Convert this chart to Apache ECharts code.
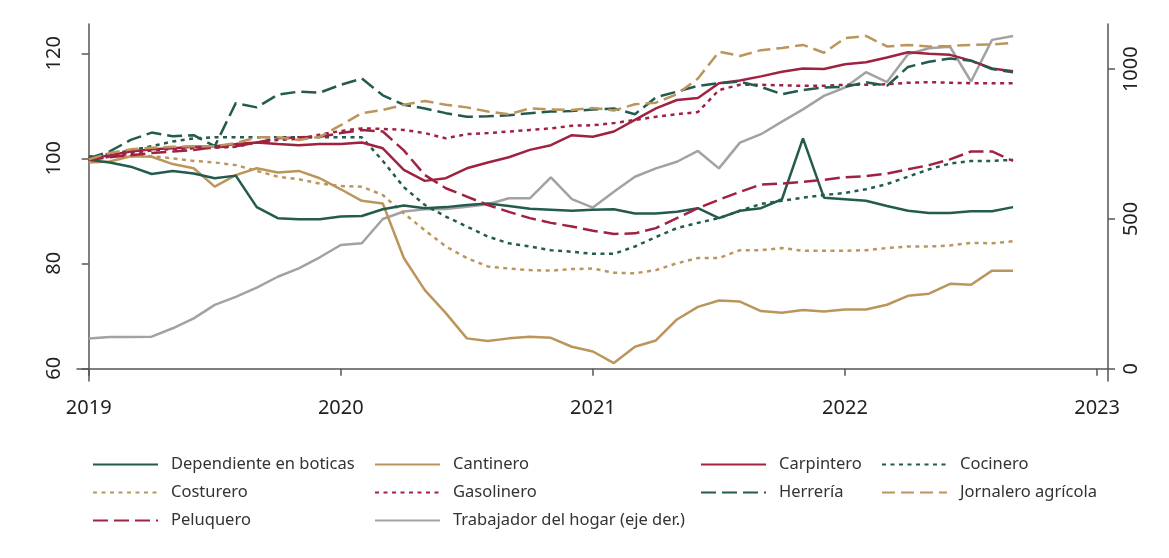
<!DOCTYPE html>
<html>
<head>
<meta charset="utf-8">
<script src="https://cdn.jsdelivr.net/npm/echarts@6/dist/echarts.min.js"></script>
<style>
html,body{margin:0;padding:0;background:#fff;}
#chart{width:1169px;height:558px;}
</style>
</head>
<body>
<div id="chart"></div>
<script>
// meses: ene 2019 (0) ... sep 2022 (44)
var yearTicks = [0, 12, 24, 36, 48];
var leftTicks = [60, 80, 100, 120];
var rightTicks = [0, 500, 1000];

var dependiente = [99.7,99.2,98.4,97.0,97.6,97.1,96.2,96.7,90.7,88.6,88.4,88.4,88.9,89.0,90.3,91.0,90.5,90.7,91.1,91.4,90.9,90.4,90.2,90.0,90.2,90.3,89.5,89.5,89.8,90.5,88.6,90.0,90.5,92.2,103.8,92.5,92.2,91.9,90.9,90.0,89.6,89.6,89.9,89.9,90.7];
var cantinero = [99.2,99.4,100.4,100.3,98.9,98.1,94.6,96.8,98.1,97.3,97.6,96.2,94.1,91.9,91.4,81.0,74.9,70.5,65.7,65.2,65.7,66.0,65.8,64.1,63.2,61.0,64.1,65.3,69.3,71.7,72.9,72.7,70.9,70.6,71.1,70.8,71.2,71.2,72.1,73.8,74.2,76.1,75.9,78.6,78.6];
var carpintero = [99.8,100.6,101.3,101.7,101.9,102.2,102.3,102.7,103.0,102.7,102.5,102.7,102.7,103.0,101.9,97.8,95.7,96.2,98.1,99.2,100.2,101.6,102.5,104.4,104.1,105.1,107.3,109.5,111.1,111.5,114.3,114.8,115.6,116.5,117.1,117.0,117.9,118.3,119.2,120.2,119.9,119.7,118.6,117.1,116.6];
var cocinero = [100.3,100.8,101.5,102.3,103.2,103.8,104.0,104.0,104.0,104.0,104.0,104.0,104.0,104.0,99.5,94.5,91.1,88.9,87.0,85.1,83.8,83.2,82.5,82.2,81.8,81.8,83.2,85.0,86.7,87.7,88.6,90.0,91.3,91.9,92.5,93.0,93.4,94.1,95.1,96.5,97.9,99.0,99.5,99.5,99.7];
var costurero = [100.3,100.5,100.5,100.4,100.0,99.5,99.2,98.7,97.6,96.5,96.0,95.2,94.7,94.6,93.0,89.5,86.3,83.2,81.0,79.4,79.0,78.7,78.6,78.9,79.0,78.2,78.1,78.7,80.0,81.0,81.0,82.5,82.5,82.9,82.4,82.4,82.4,82.5,82.9,83.2,83.2,83.4,83.9,83.8,84.2];
var gasolinero = [99.7,100.3,101.0,101.5,101.8,101.9,102.0,102.2,103.0,103.5,103.7,104.5,105.2,105.7,105.6,105.4,104.8,103.8,104.6,104.8,105.1,105.4,105.7,106.2,106.3,106.7,107.3,107.9,108.4,108.8,113.0,114.0,114.0,113.9,113.8,113.8,114.0,114.0,114.1,114.4,114.5,114.4,114.3,114.3,114.3];
var herreria = [100.0,101.3,103.5,104.9,104.2,104.4,102.3,110.5,109.7,112.1,112.7,112.5,114.0,115.2,112.0,110.2,109.5,108.6,107.9,108.0,108.2,108.6,108.9,109.0,109.3,109.5,108.4,111.6,112.7,113.8,114.3,114.6,113.6,112.2,113.0,113.5,113.6,114.5,113.8,117.4,118.4,119.0,118.6,117.0,116.4];
var jornalero = [99.8,101.0,101.7,102.0,102.2,102.3,102.3,102.9,104.0,104.0,103.5,104.1,106.3,108.6,109.2,110.2,110.9,110.2,109.7,108.9,108.4,109.5,109.3,109.2,109.6,109.1,110.3,110.6,112.2,115.2,120.3,119.5,120.6,121.0,121.6,120.1,122.9,123.3,121.3,121.6,121.3,121.4,121.6,121.7,122.0];
var peluquero = [99.7,100.2,100.6,101.0,101.3,101.6,102.1,102.3,103.0,103.8,104.0,104.1,104.8,105.4,105.1,101.5,96.8,94.3,92.7,91.1,89.8,88.6,87.7,87.0,86.2,85.6,85.7,86.7,88.6,90.5,92.1,93.6,95.0,95.2,95.5,95.9,96.4,96.6,97.1,97.9,98.7,99.8,101.3,101.3,99.5];
var trabajador = [101,106,106,107,135,168,213,240,271,307,335,372,413,419,500,525,532,533,541,549,569,569,639,566,538,591,641,669,691,727,669,755,783,825,866,911,939,990,957,1050,1070,1075,959,1098,1111];

var verde = '#235B4E', oro = '#BC955C', guinda = '#9F2241', gris = '#A2A2A2';
var solido = 'solid', punteado = [4, 4.5], guiones = [15, 6];
var fuente = 'Noto Sans';

function pares(arr){
	var out = [];
	for (var i = 0; i < arr.length; i++) out.push([i, arr[i]]);
	return out;
}

function serie(nombre, arr, color, tipo, eje){
	return {
		name: nombre,
		type: 'line',
		yAxisIndex: eje || 0,
		data: pares(arr),
		symbol: 'none',
		animation: false,
		lineStyle: {color: color, width: 2.5, type: tipo, cap: 'butt'},
		itemStyle: {color: color}
	};
}

var series = [
	serie('Trabajador del hogar (eje der.)', trabajador, gris, solido, 1),
	serie('Costurero', costurero, oro, punteado),
	serie('Cantinero', cantinero, oro, solido),
	serie('Cocinero', cocinero, verde, punteado),
	serie('Dependiente en boticas', dependiente, verde, solido),
	serie('Peluquero', peluquero, guinda, guiones),
	serie('Gasolinero', gasolinero, guinda, punteado),
	serie('Carpintero', carpintero, guinda, solido),
	serie('Herrería', herreria, verde, guiones),
	serie('Jornalero agrícola', jornalero, oro, [13, 6])
];

function leyenda(left, nombres){
	return {
		orient: 'vertical',
		left: left,
		top: 456,
		padding: 0,
		itemWidth: 65,
		itemHeight: 16,
		itemGap: 11,
		selectedMode: false,
		itemStyle: {opacity: 0},
		data: nombres,
		textStyle: {fontFamily: fuente, fontSize: 16.5, color: '#333', lineHeight: 16, padding: [0, 0, 0, 8]}
	};
}

var ejeColor = '#555';
var myChart = echarts.init(document.getElementById('chart'));
var option = {
	backgroundColor: '#fff',
	animation: false,
	grid: {left: 77, right: 61, top: 24, bottom: 177},
	legend: [
		leyenda(92, ['Dependiente en boticas', 'Costurero', 'Peluquero']),
		leyenda(374, ['Cantinero', 'Gasolinero', 'Trabajador del hogar (eje der.)']),
		leyenda(700, ['Carpintero', 'Herrería']),
		leyenda(881, ['Cocinero', 'Jornalero agrícola'])
	],
	xAxis: {
		type: 'value',
		min: -0.557,
		max: 48.52,
		axisLine: {show: true, lineStyle: {color: ejeColor, width: 1.5}},
		axisTick: {show: true, length: 7, customValues: yearTicks, lineStyle: {color: ejeColor, width: 1.5}},
		axisLabel: {
			customValues: yearTicks,
			margin: 17,
			fontFamily: fuente, fontSize: 20, color: '#222',
			formatter: function(v){ return String(2019 + Math.round(v / 12)); }
		},
		splitLine: {show: false}
	},
	yAxis: [
		{
			type: 'value',
			position: 'left',
			min: 57.58,
			max: 125.58,
			axisLine: {show: true, lineStyle: {color: ejeColor, width: 1.5}},
			axisTick: {show: true, length: 7, customValues: leftTicks, lineStyle: {color: ejeColor, width: 1.5}},
			axisLabel: {customValues: leftTicks, rotate: 90, margin: 13, fontFamily: fuente, fontSize: 20, color: '#222'},
			splitLine: {show: false}
		},
		{
			type: 'value',
			position: 'right',
			min: -41.1,
			max: 1151,
			axisLine: {show: true, lineStyle: {color: ejeColor, width: 1.5}},
			axisTick: {show: true, length: 7, customValues: rightTicks, lineStyle: {color: ejeColor, width: 1.5}},
			axisLabel: {
				customValues: rightTicks, rotate: 90, margin: 13, fontFamily: fuente, fontSize: 20, color: '#222',
				formatter: function(v){ return String(v); }
			},
			splitLine: {show: false}
		}
	],
	series: series
};
myChart.setOption(option);
</script>
</body>
</html>
